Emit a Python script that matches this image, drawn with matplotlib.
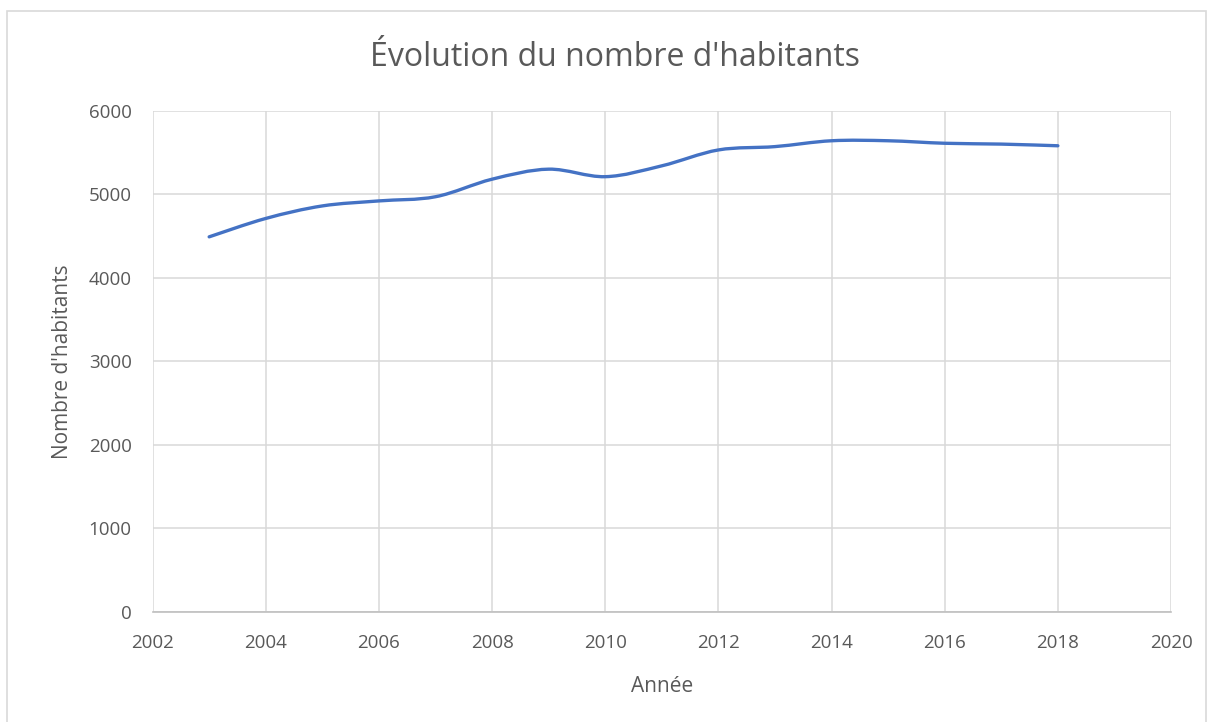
import numpy as np
import matplotlib.pyplot as plt
from matplotlib.path import Path
from matplotlib.patches import PathPatch, Rectangle

# données
annees = [2003, 2004, 2005, 2006, 2007, 2008, 2009, 2010,
          2011, 2012, 2013, 2014, 2015, 2016, 2017, 2018]
habitants = [4490, 4710, 4860, 4920, 4970, 5180, 5300, 5210,
             5340, 5530, 5570, 5640, 5640, 5610, 5600, 5580]
x_ticks = [2002, 2004, 2006, 2008, 2010, 2012, 2014, 2016, 2018, 2020]
y_ticks = [0, 1000, 2000, 3000, 4000, 5000, 6000]

plt.rcParams['font.family'] = ['Open Sans', 'DejaVu Sans']
txt = '#595959'

fig = plt.figure(figsize=(12.11, 7.22), dpi=100)
ax = fig.add_axes([0.126, 0.1524, 0.841, 0.6943])

# courbe lissée (style Excel) : segments de Bézier entre les points
pts = np.column_stack([annees, habitants]).astype(float)
ext = np.vstack([pts[0], pts, pts[-1]])
verts = [tuple(pts[0])]
codes = [Path.MOVETO]
for i in range(len(pts) - 1):
    p0, p1, p2, p3 = ext[i], ext[i + 1], ext[i + 2], ext[i + 3]
    c1 = p1 + (p2 - p0) / 6
    c2 = p2 - (p3 - p1) / 6
    verts += [tuple(c1), tuple(c2), tuple(p2)]
    codes += [Path.CURVE4] * 3
ax.add_patch(PathPatch(Path(verts, codes), fill=False, edgecolor='#4472C4',
                       lw=2.4, capstyle='round', joinstyle='round', zorder=3))

ax.set_xlim(2002, 2020)
ax.set_ylim(0, 6000)
ax.set_xticks(x_ticks)
ax.set_yticks(y_ticks)
ax.grid(True, color='#D9D9D9', lw=1.1)
ax.set_axisbelow(True)
for s in ['top', 'right', 'left']:
    ax.spines[s].set_visible(False)
ax.spines['bottom'].set_color('#BFBFBF')
ax.spines['bottom'].set_linewidth(1.2)
ax.tick_params(length=0, labelsize=13.5, labelcolor=txt)
ax.tick_params(axis='x', pad=16)
ax.tick_params(axis='y', pad=15)

ax.set_xlabel('Année', fontsize=15, color=txt, labelpad=17)
ax.set_ylabel("Nombre d'habitants", fontsize=15, color=txt, labelpad=11)
fig.text(0.508, 0.921, "Évolution du nombre d'habitants", ha='center', va='center',
         fontsize=23, color=txt)

# cadre du graphique
fig.patches.append(Rectangle((0.006, -0.01), 0.99, 0.995, transform=fig.transFigure,
                             fill=False, edgecolor='#D9D9D9', lw=1.2))

fig.savefig('out.png', dpi=100)
